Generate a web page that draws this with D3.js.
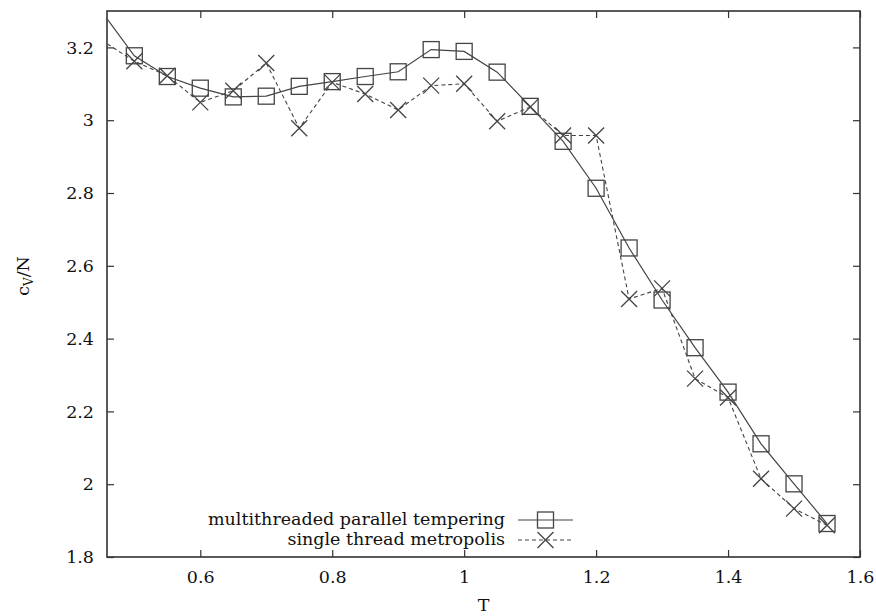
<!DOCTYPE html>
<html>
<head>
<meta charset="utf-8">
<script src="https://cdn.jsdelivr.net/npm/d3@7"></script>
<style>
  html, body { margin: 0; padding: 0; background: #fff; }
  svg { display: block; }
  text { font-family: "DejaVu Serif", "Liberation Serif", serif; fill: #111; }
</style>
</head>
<body>
<svg id="chart" width="876" height="616"></svg>
<script>
// ---- data ----
const temps = [0.45, 0.50, 0.55, 0.60, 0.65, 0.70, 0.75, 0.80, 0.85, 0.90, 0.95, 1.00,
               1.05, 1.10, 1.15, 1.20, 1.25, 1.30, 1.35, 1.40, 1.45, 1.50, 1.55];
const parallelTempering = [3.30, 3.177, 3.120, 3.088, 3.064, 3.066, 3.093, 3.106, 3.120, 3.133, 3.194, 3.189,
                           3.132, 3.038, 2.942, 2.813, 2.649, 2.506, 2.375, 2.253, 2.111, 2.001, 1.892];
const singleMetropolis = [3.22, 3.162, 3.122, 3.049, 3.081, 3.157, 2.978, 3.104, 3.072, 3.028, 3.095, 3.100,
                          2.997, 3.036, 2.958, 2.958, 2.509, 2.538, 2.290, 2.238, 2.015, 1.933, 1.887];
const xTicks = [0.6, 0.8, 1.0, 1.2, 1.4, 1.6];
const yTicks = [1.8, 2.0, 2.2, 2.4, 2.6, 2.8, 3.0, 3.2];
const seriesNames = ["multithreaded parallel tempering", "single thread metropolis"];

// ---- layout ----
const svg = d3.select("#chart");
const L = 107, R = 860, T = 11, B = 557;
const x = d3.scaleLinear().domain([0.4586, 1.6]).range([L, R]);
const y = d3.scaleLinear().domain([1.8, 3.3]).range([B, T]);
const ink = "#333";
const lineInk = "#444";
const FS = 17.5;
const fmt = d => (Math.round(d * 10) / 10).toString();

svg.append("defs").append("clipPath").attr("id", "plotclip")
  .append("rect").attr("x", L).attr("y", T).attr("width", R - L).attr("height", B - T);

// axes with inward ticks, mirrored
const tickLen = 7;
const axB = svg.append("g").attr("transform", `translate(0,${B})`)
  .call(d3.axisBottom(x).tickValues(xTicks).tickFormat(fmt).tickSizeInner(-tickLen).tickSizeOuter(0).tickPadding(14));
const axT = svg.append("g").attr("transform", `translate(0,${T})`)
  .call(d3.axisTop(x).tickValues(xTicks).tickFormat("").tickSizeInner(-tickLen).tickSizeOuter(0));
const axL = svg.append("g").attr("transform", `translate(${L},0)`)
  .call(d3.axisLeft(y).tickValues(yTicks).tickFormat(fmt).tickSizeInner(-tickLen).tickSizeOuter(0).tickPadding(13));
const axR = svg.append("g").attr("transform", `translate(${R},0)`)
  .call(d3.axisRight(y).tickValues(yTicks).tickFormat("").tickSizeInner(-tickLen).tickSizeOuter(0));
[axB, axT, axL, axR].forEach(a => {
  a.select(".domain").remove();
  a.selectAll(".tick line").attr("stroke", ink).attr("stroke-width", 1.2);
  a.selectAll(".tick text").attr("font-size", FS).attr("fill", "#111")
    .style("font-family", '"DejaVu Serif", serif');
});
// frame
svg.append("rect").attr("x", L).attr("y", T).attr("width", R - L).attr("height", B - T)
  .attr("fill", "none").attr("stroke", ink).attr("stroke-width", 1.6);

// axis titles
svg.append("text").attr("x", (L + R) / 2).attr("y", 611).attr("text-anchor", "middle")
  .attr("font-size", FS).text("T");
const yl = svg.append("text").attr("transform", `translate(29,${(T + B) / 2 - 8}) rotate(-90)`)
  .attr("text-anchor", "middle").attr("font-size", FS);
yl.append("tspan").text("c");
yl.append("tspan").attr("font-size", 12).attr("dy", 4).text("V");
yl.append("tspan").attr("dy", -4).text("/N");

// lines
const plot = svg.append("g").attr("clip-path", "url(#plotclip)");
const line = d3.line().curve(d3.curveLinear);
const ptsA = temps.map((t, i) => [x(t), y(parallelTempering[i])]);
const ptsB = temps.map((t, i) => [x(t), y(singleMetropolis[i])]);
plot.append("path").attr("d", line(ptsB)).attr("fill", "none")
  .attr("stroke", lineInk).attr("stroke-width", 1.1).attr("stroke-dasharray", "4,3");
plot.append("path").attr("d", line(ptsA)).attr("fill", "none")
  .attr("stroke", lineInk).attr("stroke-width", 1.2);

// markers
const S = 8;
function square(g, cx, cy) {
  g.append("rect").attr("x", cx - S).attr("y", cy - S).attr("width", 2 * S).attr("height", 2 * S)
    .attr("fill", "none").attr("stroke", lineInk).attr("stroke-width", 1.3);
}
function cross(g, cx, cy) {
  g.append("path").attr("d", `M${cx - S},${cy - S}L${cx + S},${cy + S}M${cx - S},${cy + S}L${cx + S},${cy - S}`)
    .attr("fill", "none").attr("stroke", lineInk).attr("stroke-width", 1.3);
}
const inDomain = t => t >= x.domain()[0] && t <= x.domain()[1];
const mk = plot.append("g");
temps.forEach((t, i) => {
  if (!inDomain(t)) return;
  cross(mk, x(t), y(singleMetropolis[i]));
  square(mk, x(t), y(parallelTempering[i]));
});

// legend
const leg = svg.append("g");
const legRows = [
  { name: seriesNames[0], yy: 520, dash: null, marker: square },
  { name: seriesNames[1], yy: 540, dash: "4,3", marker: cross }
];
legRows.forEach(r => {
  leg.append("text").attr("x", 505).attr("y", r.yy + 5).attr("text-anchor", "end")
    .attr("font-size", FS).text(r.name);
  leg.append("line").attr("x1", 518).attr("x2", 573).attr("y1", r.yy).attr("y2", r.yy)
    .attr("stroke", lineInk).attr("stroke-width", 1.1).attr("stroke-dasharray", r.dash);
  r.marker(leg, 545.5, r.yy);
});
</script>
</body>
</html>
